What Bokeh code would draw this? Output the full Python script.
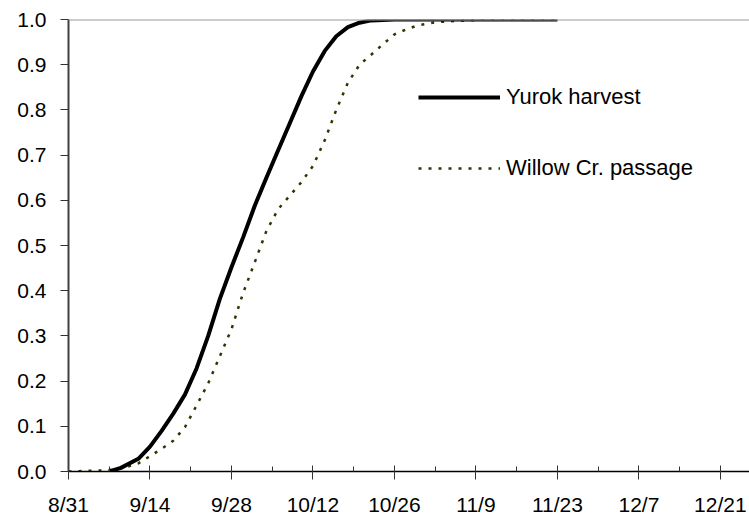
from bokeh.plotting import figure
from bokeh.models import (FixedTicker, NumeralTickFormatter, Span, Range1d,
                          Legend, LegendItem)
from bokeh.embed import file_html
from bokeh.resources import INLINE

# x values are days after 8/31
tick_days = [0, 14, 28, 42, 56, 70, 84, 98, 112]
tick_labels = ["8/31", "9/14", "9/28", "10/12", "10/26", "11/9", "11/23", "12/7", "12/21"]
minor_days = [7, 21, 35, 49, 63, 77, 91, 105, 119]
y_ticks = [0.0, 0.1, 0.2, 0.3, 0.4, 0.5, 0.6, 0.7, 0.8, 0.9, 1.0]

yurok_days = [7, 9, 12, 14, 16, 18, 20, 22, 24, 26, 28, 30, 32, 34, 36, 38, 40,
              42, 44, 46, 48, 50, 52, 56, 84]
yurok_vals = [0.0, 0.008, 0.028, 0.055, 0.09, 0.128, 0.17, 0.228, 0.30, 0.382,
              0.452, 0.518, 0.588, 0.65, 0.71, 0.77, 0.83, 0.885, 0.93, 0.963,
              0.983, 0.993, 0.998, 1.0, 1.0]

willow_days = [0, 7, 10, 12, 14, 16, 18, 20, 22, 24, 26, 28, 30, 32, 34, 36, 38,
               40, 42, 44, 46, 48, 50, 52, 54, 56, 58, 60, 63, 67, 72, 84]
willow_vals = [0.0, 0.003, 0.01, 0.018, 0.034, 0.05, 0.068, 0.098, 0.146, 0.195,
               0.255, 0.315, 0.395, 0.463, 0.532, 0.58, 0.61, 0.64, 0.676, 0.732,
               0.80, 0.86, 0.90, 0.922, 0.945, 0.967, 0.978, 0.987, 0.994, 0.997,
               1.0, 1.0]

p = figure(width=749, height=518, output_backend="svg", toolbar_location=None,
           x_range=Range1d(0, 117), y_range=Range1d(0, 1.0),
           min_border_left=68, min_border_right=0, min_border_top=19,
           min_border_bottom=47)
p.outline_line_color = None
p.xgrid.visible = False
p.ygrid.visible = False
p.background_fill_color = "white"

top = Span(location=1.0, dimension="width", line_color="#9a9a9a", line_width=2)
p.add_layout(top)

r_w = p.line(willow_days, willow_vals, line_color="#333300", line_width=2.5,
             line_dash="3 7")
r_y = p.line(yurok_days, yurok_vals, line_color="black", line_width=4)

font = "Liberation Sans"

xa = p.xaxis[0]
xa.ticker = FixedTicker(ticks=tick_days, minor_ticks=minor_days)
xa.major_label_overrides = {d: l for d, l in zip(tick_days, tick_labels)}
xa.major_tick_in = 6
xa.major_tick_out = 8
xa.minor_tick_in = 5
xa.minor_tick_out = 0
xa.axis_line_color = "black"
xa.axis_line_width = 1.5
xa.major_tick_line_color = "#333333"
xa.minor_tick_line_color = "#333333"
xa.major_label_text_font = font
xa.major_label_text_font_size = "21px"
xa.major_label_text_color = "black"
xa.major_label_standoff = 13

ya = p.yaxis[0]
ya.ticker = FixedTicker(ticks=y_ticks, minor_ticks=[])
ya.formatter = NumeralTickFormatter(format="0.0")
ya.major_tick_in = 0
ya.major_tick_out = 8
ya.minor_tick_line_color = None
ya.axis_line_color = "#404040"
ya.axis_line_width = 2
ya.major_tick_line_color = "#333333"
ya.major_label_text_font = font
ya.major_label_text_font_size = "21px"
ya.major_label_text_color = "black"
ya.major_label_standoff = 14

legend = Legend(items=[LegendItem(label="Yurok harvest", renderers=[r_y]),
                       LegendItem(label="Willow Cr. passage", renderers=[r_w])],
                location=(350, 290), orientation="vertical",
                glyph_width=82, glyph_height=20, label_height=20,
                label_standoff=6, spacing=45, padding=0, margin=0,
                border_line_color=None, background_fill_alpha=0,
                label_text_font=font, label_text_font_size="22px",
                label_text_color="black")
p.add_layout(legend)

open("out.html", "w").write(file_html(p, INLINE))
